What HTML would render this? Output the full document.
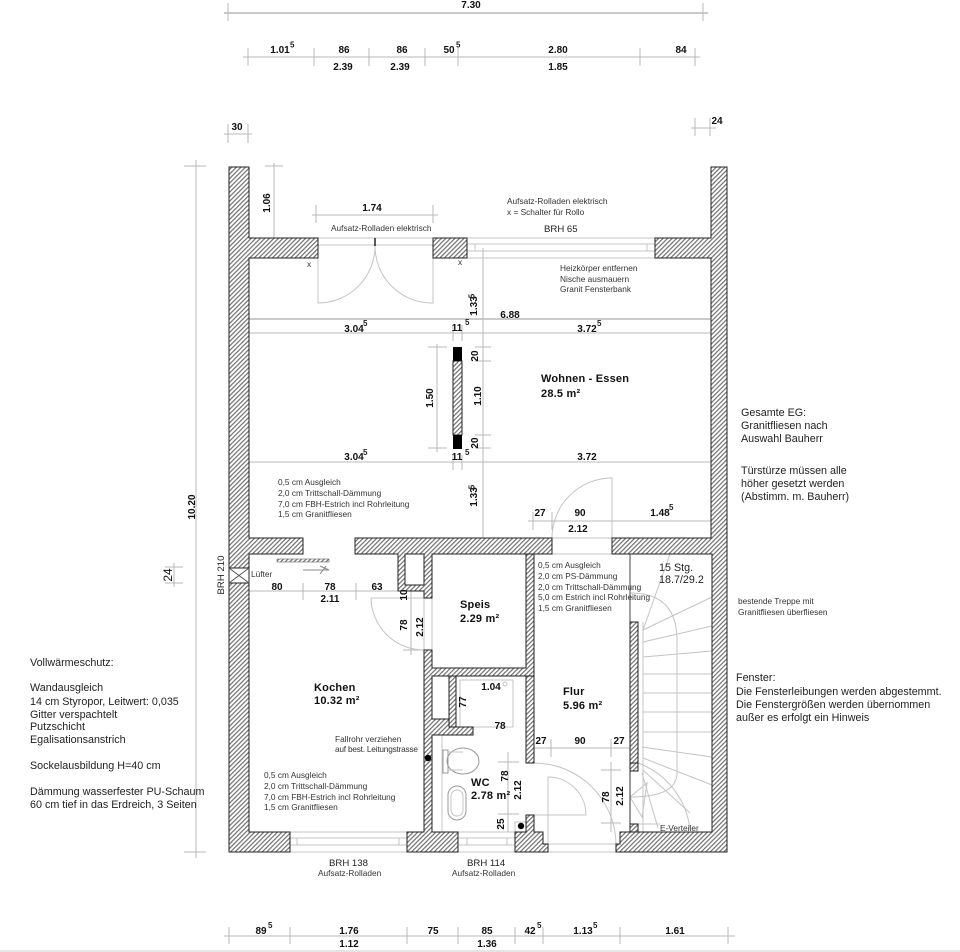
<!DOCTYPE html>
<html><head><meta charset="utf-8">
<style>
html,body{margin:0;padding:0;background:#fff}
svg{display:block}
text{font-family:"Liberation Sans",sans-serif}
.d{font-size:10px;font-weight:bold;fill:#111;text-anchor:middle}
.s{font-size:8px;font-weight:bold;fill:#222}
.n{font-size:8.3px;fill:#333}
.m{font-size:10.75px;fill:#222}
.r{font-size:11px;font-weight:bold;fill:#111;letter-spacing:.2px}
.b{font-size:9.6px;fill:#222}
.l{stroke:#b8b8b8;stroke-width:1;fill:none}
.t{stroke:#c4c4c4;stroke-width:1;fill:none}
.w{fill:url(#h);stroke:#222;stroke-width:1}
</style></head><body>
<svg width="960" height="952" viewBox="0 0 960 952" xmlns="http://www.w3.org/2000/svg">
<defs><pattern id="h" width="3.2" height="3.2" patternUnits="userSpaceOnUse" patternTransform="rotate(45)"><rect width="3.2" height="3.2" fill="#fff"/><rect width="1.2" height="3.2" fill="#707070"/></pattern></defs>

<!-- top dimensions -->
<g class="l">
<path d="M224 13H708" stroke-width="1.5"/><path d="M228 3V21M703 3V21"/>
<path d="M243 57H700M248 48V66M314 48V66M369 48V66M425 48V66M458 48V66M640 48V66M695 48V66"/>
<path d="M224 134H252M228 124V143M248 124V143"/>
<path d="M691 128H716M695 118V136M710 118V136"/>
<!-- left dims -->
<path d="M196 160V858M184 166H206M184 852H206"/>
<path d="M174 563V587M165 567H183M165 583H183"/>
<!-- 1.06, 1.74 -->
<path d="M274 163V238M265 166H283"/>
<path d="M312 215H438M316 205V223M433 205V223"/>
<!-- horizontal room dims -->
<path d="M249 319H711" stroke-width="1.4"/><path d="M249 333H711"/>
<path d="M249 462H711"/>
<path d="M453 325V341M462 325V341M453 455V470M462 455V470M447 333H468M447 462H468"/>
<!-- centre vertical -->
<path d="M483 248V538M475 258H491M475 347H491M475 361H491M475 435H491M475 448H491"/>
<path d="M437 344V452M428 347H447M428 448H447"/>
<!-- 27 90 dim -->
<path d="M528 521H712M533 512V530M552 512V530M612 512V530"/>
<!-- kitchen dim -->
<path d="M249 591H424M303 583V600M356 583V600"/>
<path d="M411 588V655M403 598H420M403 650H420"/>
<!-- Flur dim -->
<path d="M534 748H630M551 739V757M611 739V757"/>
<path d="M508 752V832M498 762H519M498 814H519"/>
<path d="M611 762V832M601 770H621M601 823H621"/>
<!-- bottom -->
<path d="M224 936H735M229 927V944M290 927V944M407 927V944M458 927V944M515 927V944M543 927V944M620 927V944M728 927V944"/>
</g>
<path d="M0 951H960" stroke="#e4e4e4" stroke-width="2"/>

<!-- thin plan lines -->
<g class="t">
<path d="M318 238H433M318 245H433"/>
<path d="M318 245V303A57 57 0 0 0 375 246"/>
<path d="M433 245V303A57 57 0 0 1 375 246"/>
<path d="M467 238H655M467 244H655M467 251H655M467 258H655M475 244V251M647 244V251"/>
<path d="M552 538A60 60 0 0 1 612 478V538M552 538H612M552 554H630"/>
<path d="M371 598H424V650A53 53 0 0 1 371 598"/>
<path d="M432 598V650"/>
<!-- bottom windows -->
<path d="M290 838H407M290 845H407M290 852H407M290 832H407M297 838V845M399 838V845"/>
<path d="M458 838H515M458 845H515M458 852H515M458 832H515M467 838V845M507 838V845"/>
<path d="M548 844H616M548 852H616"/>
<!-- entrance door -->
<path d="M534 763A82 82 0 0 1 616 845"/>
<path d="M534 815H586A38 38 0 0 0 548 777V844"/>
<!-- stairs -->
<path d="M643 622V832M630 593Q677 593 677 640V773Q677 797 630 797"/>
<path d="M643 630L670 554M643 630L712 597M643 642L712 626M643 657L712 651"/>
<path d="M643 674H712M643 693H712M643 712H712M643 732H712"/>
<path d="M642 747L712 757M643 758L712 785M643 770L690 813M642 773L658 828"/>
<path d="M638 763A80 80 0 0 1 690 830"/>
<path d="M630 797L647 783L642 817Z"/>
<path d="M638 824H660"/>
<path d="M630 554V622" stroke="#444"/>
<path d="M630 771V824" stroke="#333"/>
<!-- WC -->
<path d="M442 735V832M442 832H515"/>
<path d="M460 680H513V727M460 680V727H513"/>
<rect x="443" y="750" width="5" height="23" stroke="#999"/>
<ellipse cx="463" cy="761" rx="16" ry="13" stroke="#999"/>
<path d="M448 752H463M448 770H463"/>
<rect x="448" y="786" width="18" height="34" rx="9" stroke="#999"/>
<rect x="451" y="790" width="12" height="26" rx="6"/>
<circle cx="505" cy="684" r="2"/>
<path d="M515 832V822H526"/>
</g>

<!-- walls -->
<g class="w">
<path d="M229 167H249V238H318V258H249V538H303V554H249V832H290V852H229Z"/>
<path d="M433 238H467V258H433Z"/>
<path d="M711 167H727V852H616V844H620V832H712V554H612V538H711V258H655V238H711Z"/>
<path d="M355 538H552V554H534V763H526V554H432V598H424V591H398V554H355Z"/>
<path d="M405 554H424V585H405Z" style="fill:#fff;stroke:#222"/>
<path d="M424 650H432V668H526V554H534V676H456V727H473V735H432V832H458V852H407V832H424Z"/>
<path d="M432 676H449V719H432Z" style="fill:#fff"/>
<path d="M449 676H456V727H449Z"/>
<path d="M526 815H534V832H543V844H548V852H515V832H526Z"/>
<path d="M630 622H638V771H630Z"/>
<path d="M630 763H638V771H630Z"/>
<path d="M630 824H638V832H630Z"/>
<rect x="453" y="361" width="9" height="74"/>
</g>
<!-- black pieces -->
<rect x="453" y="347" width="9" height="14" fill="#000"/>
<rect x="453" y="435" width="9" height="14" fill="#000"/>
<path d="M375 238V246" stroke="#111" stroke-width="1.4"/>
<circle cx="428" cy="758" r="3.2" fill="#000"/>
<circle cx="521" cy="826" r="3.2" fill="#000"/>

<!-- Lüfter -->
<rect x="229" y="568" width="20" height="15" fill="#fff" stroke="#222"/>
<path d="M229 568L249 583M249 568L229 583" stroke="#555" fill="none"/>
<rect x="277" y="559" width="52" height="3" fill="url(#h)" stroke="#666" stroke-width=".6"/>
<path d="M303 570H329L320 566M320 574L326 566" stroke="#888" fill="none"/>

<!-- dimension text -->
<text class="d" x="471" y="8">7.30</text>
<text class="d" x="280" y="53">1.01</text><text class="s" x="290" y="47.5">5</text>
<text class="d" x="344" y="53">86</text><text class="d" x="402" y="53">86</text>
<text class="d" x="449" y="53">50</text><text class="s" x="456" y="47.5">5</text>
<text class="d" x="558" y="53">2.80</text><text class="d" x="681" y="53">84</text>
<text class="d" x="343" y="70">2.39</text><text class="d" x="400" y="70">2.39</text><text class="d" x="558" y="70">1.85</text>
<text class="d" x="237" y="130">30</text><text class="d" x="717" y="124">24</text>
<text class="d" x="372" y="211">1.74</text>
<text class="d" x="354" y="332">3.04</text><text class="s" x="363" y="326">5</text>
<text class="d" x="457" y="331">11</text><text class="s" x="465" y="325">5</text>
<text class="d" x="510" y="318">6.88</text>
<text class="d" x="587" y="332">3.72</text><text class="s" x="597" y="326">5</text>
<text class="d" x="354" y="460">3.04</text><text class="s" x="363" y="455">5</text>
<text class="d" x="457" y="460">11</text><text class="s" x="465" y="455">5</text>
<text class="d" x="587" y="460">3.72</text>
<text class="d" x="540" y="516">27</text><text class="d" x="580" y="516">90</text>
<text class="d" x="660" y="516">1.48</text><text class="s" x="669" y="510">5</text>
<text class="d" x="578" y="532">2.12</text>
<text class="d" x="277" y="590">80</text><text class="d" x="330" y="590">78</text><text class="d" x="377" y="590">63</text>
<text class="d" x="330" y="602">2.11</text>
<text class="d" x="491" y="690">1.04</text><text class="d" x="500" y="729">78</text>
<text class="d" x="541" y="744">27</text><text class="d" x="580" y="744">90</text><text class="d" x="619" y="744">27</text>
<text class="d" x="261" y="934">89</text><text class="s" x="268" y="928">5</text>
<text class="d" x="349" y="934">1.76</text><text class="d" x="433" y="934">75</text><text class="d" x="487" y="934">85</text>
<text class="d" x="530" y="934">42</text><text class="s" x="537" y="928">5</text>
<text class="d" x="583" y="934">1.13</text><text class="s" x="593" y="928">5</text>
<text class="d" x="675" y="934">1.61</text>
<text class="d" x="349" y="947">1.12</text><text class="d" x="487" y="947">1.36</text>

<!-- rotated dimension text -->
<g class="d">
<text class="d" transform="translate(477 306) rotate(-90)">1.33</text><text class="s" transform="translate(474.5 296) rotate(-90)">5</text>
<text class="d" transform="translate(270 203) rotate(-90)">1.06</text>
<text class="d" transform="translate(478 356) rotate(-90)">20</text>
<text class="d" transform="translate(481 396) rotate(-90)">1.10</text>
<text class="d" transform="translate(478 443) rotate(-90)">20</text>
<text class="d" transform="translate(433 398) rotate(-90)">1.50</text>
<text class="d" transform="translate(477 497) rotate(-90)">1.33</text><text class="s" transform="translate(474.5 487) rotate(-90)">5</text>
<text class="d" transform="translate(195 507) rotate(-90)">10.20</text>
<text class="d" transform="translate(172 575) rotate(-90)" style="font-weight:normal;font-size:12px">24</text>
<text class="d" transform="translate(407 595) rotate(-90)">10</text>
<text class="d" transform="translate(407 625) rotate(-90)">78</text>
<text class="d" transform="translate(423 627) rotate(-90)">2.12</text>
<text class="d" transform="translate(466 702) rotate(-90)">77</text>
<text class="d" transform="translate(508 776) rotate(-90)">78</text>
<text class="d" transform="translate(521 790) rotate(-90)">2.12</text>
<text class="d" transform="translate(504 824) rotate(-90)">25</text>
<text class="d" transform="translate(609 797) rotate(-90)">78</text>
<text class="d" transform="translate(623 796) rotate(-90)">2.12</text>
</g>
<text class="b" style="text-anchor:middle" transform="translate(224 575) rotate(-90)">BRH 210</text>

<!-- notes -->
<text class="n" x="331" y="231">Aufsatz-Rolladen elektrisch</text>
<text class="n" x="507" y="204">Aufsatz-Rolladen elektrisch</text>
<text class="n" x="507" y="215">x = Schalter für Rollo</text>
<text class="b" x="544" y="232">BRH 65</text>
<text class="n" x="307" y="267">x</text><text class="n" x="458" y="265">x</text>
<text class="n" x="560" y="271">Heizkörper entfernen</text>
<text class="n" x="560" y="282">Nische ausmauern</text>
<text class="n" x="560" y="292">Granit Fensterbank</text>
<text class="r" x="541" y="382">Wohnen - Essen</text>
<text class="r" x="541" y="397">28.5 m²</text>
<text class="n" x="278" y="485">0,5 cm Ausgleich</text>
<text class="n" x="278" y="496">2,0 cm Trittschall-Dämmung</text>
<text class="n" x="278" y="507">7,0 cm FBH-Estrich incl Rohrleitung</text>
<text class="n" x="278" y="517">1,5 cm Granitfliesen</text>
<text class="m" x="741" y="416">Gesamte EG:</text>
<text class="m" x="741" y="429">Granitfliesen nach</text>
<text class="m" x="741" y="442">Auswahl Bauherr</text>
<text class="m" x="741" y="474">Türstürze müssen alle</text>
<text class="m" x="741" y="487">höher gesetzt werden</text>
<text class="m" x="741" y="500">(Abstimm. m. Bauherr)</text>
<text class="n" x="251" y="577">Lüfter</text>
<text class="n" x="538" y="568">0,5 cm Ausgleich</text>
<text class="n" x="538" y="579">2,0 cm PS-Dämmung</text>
<text class="n" x="538" y="590">2,0 cm Trittschall-Dämmung</text>
<text class="n" x="538" y="600">5,0 cm Estrich incl Rohrleitung</text>
<text class="n" x="538" y="611">1,5 cm Granitfliesen</text>
<text class="m" x="659" y="571">15 Stg.</text>
<text class="m" x="659" y="583">18.7/29.2</text>
<text class="n" x="738" y="604">bestende Treppe mit</text>
<text class="n" x="738" y="615">Granitfliesen überfliesen</text>
<text class="r" x="460" y="608">Speis</text>
<text class="r" x="460" y="622">2.29 m²</text>
<text class="r" x="314" y="691">Kochen</text>
<text class="r" x="314" y="704">10.32 m²</text>
<text class="r" x="563" y="695">Flur</text>
<text class="r" x="563" y="709">5.96 m²</text>
<text class="r" x="471" y="786">WC</text>
<text class="r" x="471" y="799">2.78 m²</text>
<text class="n" x="335" y="742">Fallrohr verziehen</text>
<text class="n" x="335" y="752" textLength="83">auf best. Leitungstrasse</text>
<text class="n" x="264" y="778">0,5 cm Ausgleich</text>
<text class="n" x="264" y="789">2,0 cm Trittschall-Dämmung</text>
<text class="n" x="264" y="800">7,0 cm FBH-Estrich incl Rohrleitung</text>
<text class="n" x="264" y="810">1,5 cm Granitfliesen</text>
<text class="n" x="660" y="831">E-Verteiler</text>
<text class="b" x="329" y="866">BRH 138</text>
<text class="n" x="318" y="876">Aufsatz-Rolladen</text>
<text class="b" x="467" y="866">BRH 114</text>
<text class="n" x="452" y="876">Aufsatz-Rolladen</text>
<text class="m" x="30" y="666">Vollwärmeschutz:</text>
<text class="m" x="30" y="691">Wandausgleich</text>
<text class="m" x="30" y="705">14 cm Styropor, Leitwert: 0,035</text>
<text class="m" x="30" y="718">Gitter verspachtelt</text>
<text class="m" x="30" y="730">Putzschicht</text>
<text class="m" x="30" y="743">Egalisationsanstrich</text>
<text class="m" x="30" y="769">Sockelausbildung H=40 cm</text>
<text class="m" x="30" y="795">Dämmung wasserfester PU-Schaum</text>
<text class="m" x="30" y="808">60 cm tief in das Erdreich, 3 Seiten</text>
<text class="m" x="736" y="681">Fenster:</text>
<text class="m" x="736" y="695">Die Fensterleibungen werden abgestemmt.</text>
<text class="m" x="736" y="708">Die Fenstergrößen werden übernommen</text>
<text class="m" x="736" y="721">außer es erfolgt ein Hinweis</text>
</svg>
</body></html>
